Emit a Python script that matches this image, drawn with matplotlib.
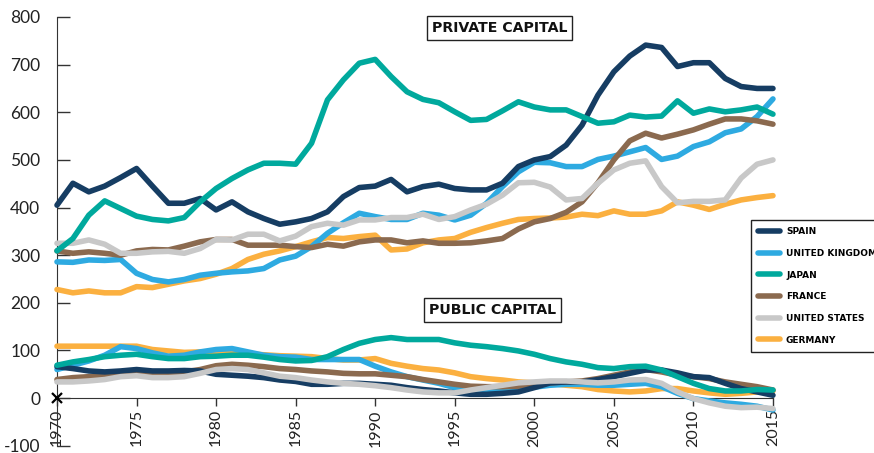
import matplotlib

matplotlib.use("Agg")
import matplotlib.pyplot as plt

plt.rcParams["font.family"] = ["Lato", "DejaVu Sans"]

years = list(range(1970, 2016))

# private capital, % of national income
spain_private = [405, 451, 433, 445, 463, 482,
                 445, 409, 409, 419, 395,
                 412, 391, 377, 365, 370,
                 377, 391, 423, 442, 445,
                 459, 433, 444, 449, 440,
                 437, 437, 451, 486, 500,
                 507, 531, 573, 636, 685,
                 718, 741, 736, 696, 704,
                 704, 671, 654, 650, 650]
uk_private = [286, 285, 290, 289, 291, 262,
              249, 244, 249, 258, 262,
              265, 267, 272, 290, 298,
              318, 346, 368, 388, 381,
              375, 375, 388, 384, 374,
              384, 409, 444, 475, 495,
              494, 486, 486, 501, 508,
              517, 526, 501, 508, 528,
              538, 557, 565, 591, 628]
japan_private = [309, 335, 384, 414, 398, 382,
                 375, 372, 379, 412, 440,
                 461, 479, 493, 493, 491,
                 535, 626, 668, 703, 711,
                 675, 643, 627, 620, 601,
                 583, 585, 603, 622, 611,
                 605, 605, 591, 577, 580,
                 594, 590, 592, 624, 598,
                 607, 601, 605, 611, 596]
france_private = [309, 304, 307, 304, 300, 309,
                  312, 311, 319, 328, 333,
                  333, 321, 321, 321, 318,
                  316, 323, 319, 328, 332,
                  332, 326, 330, 325, 325,
                  326, 330, 335, 355, 370,
                  377, 390, 412, 452, 500,
                  540, 556, 546, 554, 563,
                  575, 586, 586, 582, 575]
us_private = [325, 325, 332, 323, 304, 304,
              307, 308, 304, 314, 333,
              332, 344, 344, 330, 340,
              360, 367, 363, 374, 374,
              379, 379, 386, 375, 381,
              395, 407, 426, 452, 453,
              443, 416, 419, 451, 479,
              493, 498, 444, 410, 413,
              413, 416, 462, 491, 500]
germany_private = [228, 221, 225, 221, 221, 234,
                   232, 239, 246, 251, 260,
                   272, 291, 302, 309, 318,
                   328, 337, 335, 339, 342,
                   311, 313, 326, 332, 335,
                   348, 358, 367, 375, 377,
                   378, 380, 386, 383, 393,
                   386, 386, 393, 412, 405,
                   396, 407, 416, 421, 425]

# public capital
spain_public = [66, 62, 57, 55, 57, 60,
                57, 57, 58, 57, 50,
                48, 46, 43, 38, 35,
                29, 29, 31, 31, 29,
                27, 22, 18, 15, 11,
                8, 8, 10, 13, 22,
                32, 34, 34, 39, 45,
                52, 59, 59, 53, 45,
                43, 31, 20, 13, 6]
uk_public = [60, 69, 78, 90, 108, 104,
             95, 88, 90, 97, 102,
             104, 97, 90, 87, 86,
             81, 81, 81, 81, 67,
             55, 45, 38, 31, 22,
             17, 15, 17, 20, 23,
             27, 29, 29, 27, 27,
             29, 31, 24, 10, -1,
             -6, -10, -13, -17, -25]
japan_public = [69, 76, 81, 87, 90, 92,
                87, 83, 83, 87, 88,
                90, 90, 86, 81, 78,
                79, 87, 102, 115, 123,
                127, 123, 123, 123, 116,
                111, 108, 104, 99, 92,
                83, 76, 71, 64, 62,
                66, 67, 59, 45, 31,
                20, 15, 15, 18, 17]
france_public = [39, 43, 45, 47, 52, 54,
                 53, 53, 55, 60, 68,
                 71, 69, 66, 62, 60,
                 57, 55, 52, 51, 51,
                 48, 45, 39, 34, 29,
                 25, 24, 24, 25, 31,
                 32, 34, 36, 41, 48,
                 55, 60, 55, 48, 45,
                 41, 34, 29, 24, 17]
us_public = [34, 34, 36, 39, 45, 47,
             43, 43, 45, 52, 60,
             62, 60, 53, 46, 43,
             38, 34, 31, 29, 26,
             22, 17, 13, 11, 11,
             17, 22, 27, 32, 34,
             36, 36, 34, 32, 34,
             38, 39, 31, 13, -1,
             -10, -17, -20, -19, -22]
germany_public = [109, 109, 109, 109, 109, 109,
                  102, 99, 96, 97, 96,
                  95, 93, 91, 89, 88,
                  87, 83, 80, 80, 83,
                  73, 67, 62, 59, 53,
                  45, 41, 38, 34, 32,
                  31, 27, 24, 18, 15,
                  13, 15, 20, 20, 15,
                  11, 8, 10, 13, 15]

countries = ["SPAIN", "UNITED KINGDOM", "JAPAN", "FRANCE", "UNITED STATES", "GERMANY"]
colors = ["#163d63", "#2eaae1", "#00a99d", "#8b6a4f", "#c8c8c8", "#fbb040"]
private = [spain_private, uk_private, japan_private, france_private, us_private, germany_private]
public = [spain_public, uk_public, japan_public, france_public, us_public, germany_public]

# drawing order (bottom to top)
order = [5, 1, 3, 0, 4, 2]

fig = plt.figure(figsize=(8.74, 4.53), dpi=100)
ax = fig.add_axes([0.0652, 0.016, 0.8192, 0.9465])

handles = {}
for i in order:
    line, = ax.plot(years, private[i], color=colors[i], lw=4, solid_capstyle="round",
                    solid_joinstyle="round", clip_on=False, zorder=3)
    ax.plot(years, public[i], color=colors[i], lw=4, solid_capstyle="round",
            solid_joinstyle="round", clip_on=False, zorder=3)
    handles[i] = line

ax.plot([1970], [0], marker="x", color="black", ms=7, mew=1.6, clip_on=False, zorder=5)

ax.set_xlim(1970, 2015)
ax.set_ylim(-100, 800)

ax.spines["top"].set_visible(False)
ax.spines["right"].set_visible(False)
ax.spines["bottom"].set_position(("data", 0))
ax.spines["left"].set_color("#333333")
ax.spines["bottom"].set_color("#333333")

ax.set_xticks(range(1970, 2016, 5))
ax.set_xticklabels([str(y) for y in range(1970, 2016, 5)], rotation=90, fontsize=11.5)
ax.set_yticks(range(-100, 801, 100))
ax.set_yticklabels([str(v) for v in range(-100, 801, 100)], fontsize=12.5)
ax.tick_params(axis="y", direction="in", length=9, width=1, color="#333333", pad=12,
               labelcolor="#222222")
ax.tick_params(axis="x", direction="out", length=6, width=1, color="#333333", pad=2,
               labelcolor="#222222")

box = dict(boxstyle="square,pad=0.35", facecolor="white", edgecolor="#222222", lw=1)
label_font = dict(family="DejaVu Sans", weight="bold", size=10.2)
ax.text(1997.8, 776, "PRIVATE CAPITAL", ha="center", va="center", fontdict=label_font,
        color="#111111", bbox=box, zorder=6)
ax.text(1997.4, 185, "PUBLIC CAPITAL", ha="center", va="center", fontdict=label_font,
        color="#111111", bbox=box, zorder=6)

leg = fig.legend([handles[i] for i in range(6)], countries, loc="upper left",
                 bbox_to_anchor=(0.859, 0.514), bbox_transform=fig.transFigure,
                 frameon=True, fancybox=False, edgecolor="#222222",
                 framealpha=1, handlelength=2.4, labelspacing=1.4, borderpad=0.8,
                 borderaxespad=0, handletextpad=0.7,
                 prop={"family": "DejaVu Sans", "weight": "bold", "size": 6.5})
leg.get_frame().set_linewidth(1)

fig.savefig("out.png", dpi=100)
